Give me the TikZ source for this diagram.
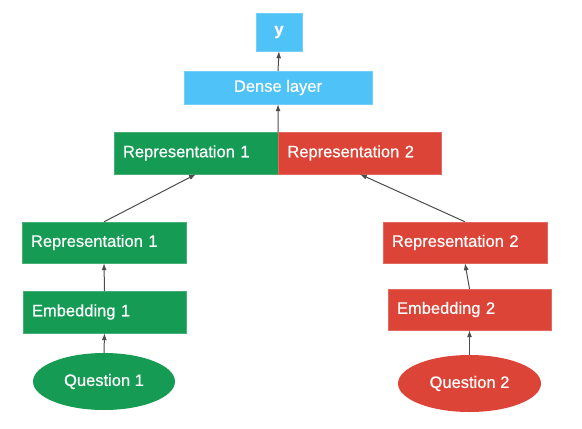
\documentclass[tikz,border=0pt]{standalone}
\usepackage{fontspec}
\setmainfont{Liberation Sans}
\newfontfamily\boxfont{Liberation Sans}[FakeBold=0.5]
\usepackage{tikz}
\usetikzlibrary{shapes,positioning,calc}
\usetikzlibrary{shapes.geometric, arrows}
\usetikzlibrary{arrows.meta}
\definecolor{qgreen}{HTML}{169B55}
\definecolor{qred}{HTML}{DB4437}
\definecolor{qblue}{HTML}{4FC3F7}
\colorlet{arrowgray}{black!70}
\tikzstyle{arrow} = [line width=1pt,draw=arrowgray,-{Latex[length=7pt,width=5pt]}]

\begin{document}
\begin{tikzpicture}[x=1pt,y=-1pt,
	layer/.style={rectangle, draw=#1!80!white, fill=#1, text=white, minimum height=41pt, inner xsep=9pt, align=left, font=\boxfont\fontsize{16.5}{19}\selectfont},
	question/.style={ellipse, fill=#1, text=white, minimum width=142pt, minimum height=57pt, font=\boxfont\fontsize{16.5}{19}\selectfont}]
	\useasboundingbox (0,0) rectangle (582,429);
	
	% OUTPUT
	
	\node [layer=qblue, minimum width=46pt, minimum height=38pt, align=center] (y) at (279,32) {\textbf{y}};
	\node [layer=qblue, minimum width=188pt, minimum height=33pt, align=center] (dense) at (278,87.5) {Dense layer};
	
	% MERGED REPRESENTATIONS
	
	\node [layer=qgreen, text width=146pt, minimum height=42pt] (reptop1) at (196,153) {Representation 1};
	\node [layer=qred, text width=145pt, minimum height=42pt, right=0pt of reptop1] (reptop2) {Representation 2};
	
	% LEFT BRANCH
	
	\node [layer=qgreen, text width=146pt] (rep1) at (104,242.5) {Representation 1};
	\node [layer=qgreen, text width=145pt, minimum height=42pt] (emb1) at (104.5,312) {Embedding 1};
	\node [question=qgreen] (q1) at (104,381.5) {Question 1};
	
	% RIGHT BRANCH
	
	\node [layer=qred, text width=146pt] (rep2) at (465,242.5) {Representation 2};
	\node [layer=qred, text width=145pt] (emb2) at (469.5,309.5) {Embedding 2};
	\node [question=qred, minimum width=143pt] (q2) at (469.5,383.5) {Question 2};
	
	% ARROWS
	
	\draw [arrow] (q1.north) -- (emb1.south);
	\draw [arrow] (emb1.north) -- (rep1.south);
	\draw [arrow] (rep1.north) -- (reptop1.south);
	\draw [arrow] (q2.north) -- (emb2.south);
	\draw [arrow] (emb2.north) -- (rep2.south);
	\draw [arrow] (rep2.north) -- (reptop2.south);
	\draw [arrow] (reptop1.north east) -- (dense.south);
	\draw [arrow] (dense.north) -- (y.south);
	
\end{tikzpicture}
\end{document}
